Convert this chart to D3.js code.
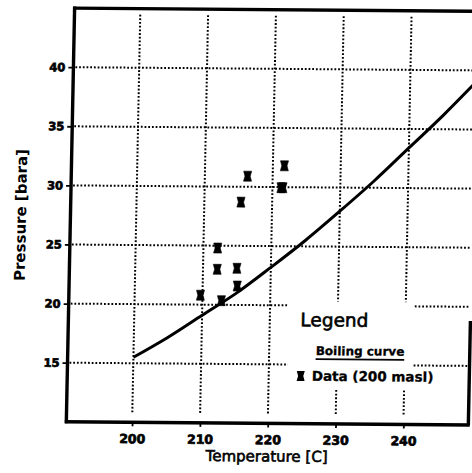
<!DOCTYPE html>
<html><head><meta charset="utf-8">
<script src="https://cdn.jsdelivr.net/npm/d3@7"></script>
<style>body{margin:0;background:#fff}svg{display:block}</style>
</head><body>
<svg id="chart" width="472" height="473"></svg>
<script>
// ---- data ----
const xTicks = [200, 210, 220, 230, 240];
const yTicks = [15, 20, 25, 30, 35, 40];
const curveT = [200, 205, 210, 215, 220, 225, 230, 235, 240, 245, 250];
const curveP = [15.5, 17.2, 19.1, 21.0, 23.2, 25.5, 28.0, 30.6, 33.4, 36.2, 39.2];
const dataT = [221.7, 221.25, 221.55, 216.3, 215.4, 212.1, 212.1, 215.0, 215.1, 209.7, 212.8];
const dataP = [31.8, 29.95, 29.95, 30.9, 28.7, 24.8, 23.0, 23.1, 21.6, 20.8, 20.35];
const xDomain = [190.3, 249.8];
const yDomain = [10, 45];
const xLabel = "Temperature [C]";
const yLabel = "Pressure [bara]";
const legendTitle = "Legend";
const legendCurve = "Boiling curve";
const legendData = "Data (200 masl)";

// ---- layout ----
const svg = d3.select("#chart");
const g = svg.append("g").attr("transform", "matrix(1,0.008,-0.02,1,4.8,-2.16)");
const x = d3.scaleLinear().domain(xDomain).range([70, 473.5]);
const y = d3.scaleLinear().domain(yDomain).range([423.4, 9.7]);
const X0 = x.range()[0], X1 = x.range()[1], Y0 = y.range()[1], Y1 = y.range()[0];
const fontMain = "'DejaVu Sans', Verdana, sans-serif";

g.append("clipPath").attr("id", "plotclip")
  .append("rect").attr("x", X0).attr("y", Y0).attr("width", X1 - X0 - 3).attr("height", Y1 - Y0);

// grid
const grid = g.append("g").attr("stroke", "#000").attr("stroke-width", 2)
  .attr("stroke-dasharray", "1.8 1.9").attr("fill", "none");
grid.selectAll("line.h").data(yTicks).join("line").attr("class", "h")
  .attr("x1", X0 + 2).attr("x2", X1 - 3).attr("y1", d => y(d)).attr("y2", d => y(d));
grid.selectAll("line.v").data(xTicks).join("line").attr("class", "v")
  .attr("x1", d => x(d)).attr("x2", d => x(d)).attr("y1", Y0 + 6).attr("y2", Y1 - 10);

// legend area (grid interrupted)
g.append("rect").attr("x", 290).attr("y", 301).attr("width", 125).attr("height", 88).attr("fill", "#fff");

// axes
const xAxis = g.append("g").attr("transform", `translate(0,${Y1})`)
  .call(d3.axisBottom(x).tickValues(xTicks).tickSize(4).tickPadding(8).tickFormat(d3.format("d")));
const yAxis = g.append("g").attr("transform", `translate(${X0},0)`)
  .call(d3.axisLeft(y).tickValues(yTicks).tickSize(5).tickPadding(3).tickFormat(d3.format("d")));
[xAxis, yAxis].forEach(a => {
  a.select(".domain").remove();
  a.selectAll(".tick line").attr("stroke", "#000").attr("stroke-width", 1.8);
  a.selectAll(".tick text").attr("fill", "#000").attr("font-family", "'DejaVu Sans', sans-serif")
    .attr("font-weight", "bold").attr("stroke", "#000").attr("stroke-width", 0.7);
});
xAxis.selectAll(".tick text").attr("font-size", 12.5);
yAxis.selectAll(".tick text").attr("font-size", 11.5);

// frame
const frame = g.append("g").attr("stroke", "#000").attr("stroke-width", 3.4).attr("fill", "none");
frame.append("line").attr("x1", X0).attr("x2", X0).attr("y1", Y0 - 1.5).attr("y2", Y1 + 1.5);
frame.append("line").attr("x1", X0 - 1.5).attr("x2", X1).attr("y1", Y0).attr("y2", Y0);
frame.append("line").attr("x1", X0 - 1.5).attr("x2", X1).attr("y1", Y1).attr("y2", Y1);
frame.append("line").attr("x1", X1 - 1.5).attr("x2", X1 - 1.5).attr("y1", y(18.8)).attr("y2", Y1);

// boiling curve
const curvePts = curveT.map((t, i) => [t, curveP[i]]);
g.append("path").datum(curvePts).attr("clip-path", "url(#plotclip)")
  .attr("fill", "none").attr("stroke", "#000").attr("stroke-width", 3)
  .attr("d", d3.line().x(d => x(d[0])).y(d => y(d[1])).curve(d3.curveMonotoneX));

// data markers
const marker = "M-4,-5H4L2.6,0L4,5H-4L-2.6,0Z";
g.selectAll("path.pt").data(dataT.map((t, i) => [t, dataP[i]])).join("path").attr("class", "pt")
  .attr("d", marker).attr("fill", "#000").attr("stroke", "#000").attr("stroke-width", 0.6)
  .attr("stroke-linejoin", "round")
  .attr("transform", d => `translate(${x(d[0])},${y(d[1])})`);

// axis titles
g.append("text").attr("x", 271).attr("y", 461.5).attr("text-anchor", "middle")
  .attr("font-family", fontMain).attr("font-size", 15).attr("stroke", "#000").attr("stroke-width", 0.6)
  .text(xLabel);
g.append("text").attr("transform", "translate(25.5,217) rotate(-90)").attr("text-anchor", "middle")
  .attr("font-family", fontMain).attr("font-size", 15).attr("font-weight", "bold")
  .text(yLabel);

// legend
g.append("text").attr("x", 302).attr("y", 326).attr("font-family", fontMain)
  .attr("font-size", 18.5).attr("stroke", "#000").attr("stroke-width", 0.6).text(legendTitle);
const lc = g.append("text").attr("x", 318).attr("y", 354.6).attr("font-family", fontMain)
  .attr("font-size", 12).attr("font-weight", "bold").attr("stroke", "#000").attr("stroke-width", 0.3)
  .text(legendCurve);
const lcw = lc.node().getComputedTextLength();
g.append("line").attr("x1", 318).attr("x2", 318 + lcw).attr("y1", 358.8).attr("y2", 358.8)
  .attr("stroke", "#000").attr("stroke-width", 1.8);
g.append("path").attr("d", marker).attr("fill", "#000").attr("transform", "translate(303.4,375.8)");
g.append("text").attr("x", 314.5).attr("y", 380.4).attr("font-family", fontMain)
  .attr("font-size", 13.5).attr("font-weight", "bold").attr("stroke", "#000").attr("stroke-width", 0.3)
  .text(legendData);
</script>
</body></html>
